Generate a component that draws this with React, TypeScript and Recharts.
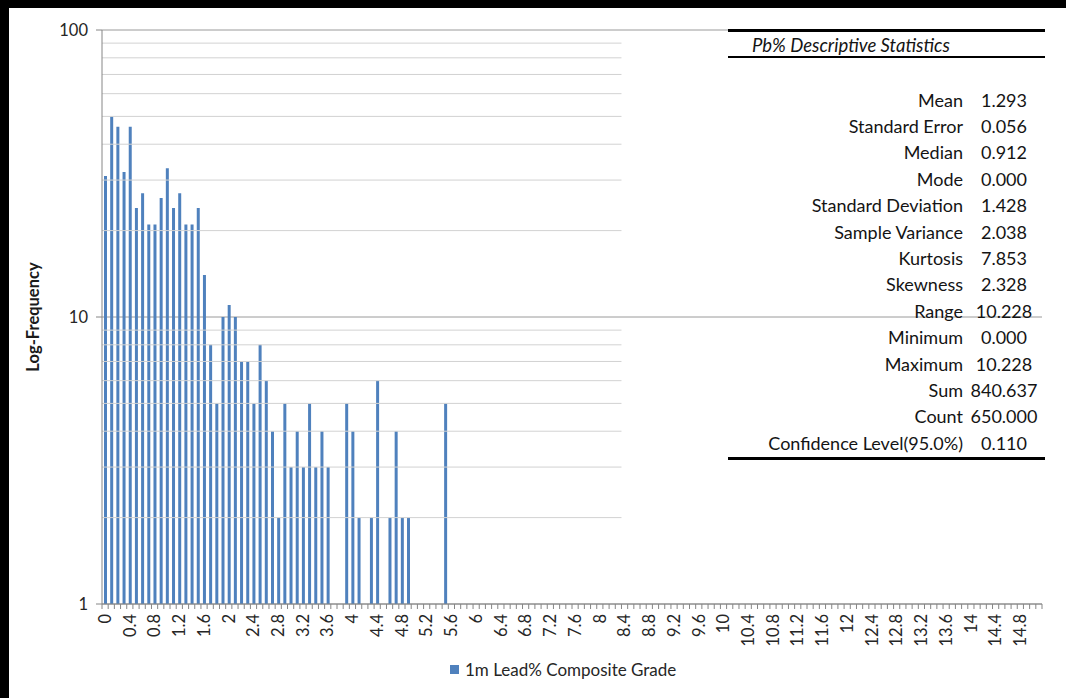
import React from 'react';
import { BarChart, Bar, XAxis, YAxis, CartesianGrid, ReferenceLine, Legend } from 'recharts';

// grade bins, 0.1% wide, starting at 0.0
const BIN_STARTS: string[] = Array.from({ length: 152 }, (_, i) => String(i / 10));

// composites per bin; bins after 5.5 carry nothing visible on the log axis
const PB_FREQ: (number | null)[] = [
  31, 50, 46, 32, 46, 24, 27, 21, 21, 26, 33, 24, 27, 21, 21, 24, 14,
  8, 5, 10, 11, 10, 7, 7, 5, 8, 6, 4, 2, 5, 3, 4, 3, 5, 3, 4, 3,
  null, null, 5, 4, 2, null, 2, 6, null, 2, 4, 2, 2,
  null, null, null, null, null, 5,
];

const Y_TICKS = [1, 10, 100];
const MINOR_GRID = [2, 3, 4, 5, 6, 7, 8, 9, 20, 30, 40, 50, 60, 70, 80, 90];
const MINOR_GRID_END = '8.4';

const SERIES_NAME = '1m Lead% Composite Grade';
const TABLE_TITLE = 'Pb% Descriptive Statistics';

const STAT_LABELS = [
  'Mean', 'Standard Error', 'Median', 'Mode', 'Standard Deviation', 'Sample Variance',
  'Kurtosis', 'Skewness', 'Range', 'Minimum', 'Maximum', 'Sum', 'Count',
  'Confidence Level(95.0%)',
];
const STAT_VALUES = [
  '1.293', '0.056', '0.912', '0.000', '1.428', '2.038', '7.853', '2.328',
  '10.228', '0.000', '10.228', '840.637', '650.000', '0.110',
];

const data = BIN_STARTS.map((bin, i) => ({ bin, freq: PB_FREQ[i] ?? null }));

const W = 1066;
const H = 698;
const MARGIN = { top: 30, right: 24, left: 20, bottom: 44 };
const Y_AXIS_W = 82;
const X_AXIS_H = 50;
const AXIS_Y = H - MARGIN.bottom - X_AXIS_H;
const STEP = (W - MARGIN.left - Y_AXIS_W - MARGIN.right) / BIN_STARTS.length;

const FONT = 'Lato, "Open Sans", sans-serif';
const AXIS_GREY = '#868686';
const BAR_BLUE = '#4F81BD';

// tick marks sit between bins, labels on every fourth bin
const BinTick = (props: any) => {
  const { x, payload, index } = props;
  const left = x - STEP / 2;
  return (
    <g>
      <line x1={left} x2={left} y1={AXIS_Y} y2={AXIS_Y + 5} stroke={AXIS_GREY} />
      {index === BIN_STARTS.length - 1 && (
        <line x1={x + STEP / 2} x2={x + STEP / 2} y1={AXIS_Y} y2={AXIS_Y + 5} stroke={AXIS_GREY} />
      )}
      {index % 4 === 0 && (
        <text
          x={x}
          y={AXIS_Y + 10}
          dy="0.35em"
          transform={`rotate(-90, ${x}, ${AXIS_Y + 10})`}
          textAnchor="end"
          fontSize={16.5}
          fontFamily={FONT}
          fill="#262626"
        >
          {payload.value}
        </text>
      )}
    </g>
  );
};

const YTitle = (props: any) => {
  const { viewBox } = props;
  const cx = viewBox.x + 13;
  const cy = viewBox.y + viewBox.height / 2;
  return (
    <text
      x={cx}
      y={cy}
      dy="0.35em"
      transform={`rotate(-90, ${cx}, ${cy})`}
      textAnchor="middle"
      fontSize={16.5}
      fontWeight="bold"
      fontFamily={FONT}
      fill="#1a1a1a"
    >
      Log-Frequency
    </text>
  );
};

const LegendBox = () => (
  <div style={{ display: 'flex', alignItems: 'center', fontFamily: FONT, fontSize: 17, color: '#262626' }}>
    <span style={{ width: 9, height: 9, background: BAR_BLUE, marginRight: 6, display: 'inline-block' }} />
    {SERIES_NAME}
  </div>
);

function StatsTable() {
  const rowTop = 99.5;
  const rowStep = 26.4;
  const rule = (top: number, h: number) => (
    <div style={{ position: 'absolute', left: 728, width: 317, top, height: h, background: '#000' }} />
  );
  return (
    <div style={{ position: 'absolute', left: 0, top: 0, width: W, height: H, pointerEvents: 'none', fontFamily: FONT, color: '#141414' }}>
      {rule(29, 3)}
      {rule(56, 2)}
      {rule(457, 3)}
      <div style={{ position: 'absolute', left: 752, top: 33, fontSize: 18.5, fontStyle: 'italic', lineHeight: '24px', whiteSpace: 'nowrap' }}>
        {TABLE_TITLE}
      </div>
      {STAT_LABELS.map((label, i) => {
        const top = rowTop + i * rowStep - 12;
        return (
          <React.Fragment key={label}>
            <div style={{ position: 'absolute', right: W - 963, top, fontSize: 18, lineHeight: '24px', whiteSpace: 'nowrap' }}>
              {label}
            </div>
            <div style={{ position: 'absolute', left: 959, width: 90, top, fontSize: 18, lineHeight: '24px', textAlign: 'center' }}>
              {STAT_VALUES[i]}
            </div>
          </React.Fragment>
        );
      })}
    </div>
  );
}

export default function App() {
  return (
    <div style={{ position: 'absolute', left: 0, top: 0, width: W, height: H, background: '#fff', overflow: 'hidden' }}>
      <BarChart width={W} height={H} data={data} margin={MARGIN} barCategoryGap={0}>
        <CartesianGrid vertical={false} stroke="#9a9a9a" />
        {MINOR_GRID.map((v) => (
          <ReferenceLine
            key={v}
            position="start"
            segment={[{ x: BIN_STARTS[0], y: v }, { x: MINOR_GRID_END, y: v }]}
            stroke="#d2d2d2"
          />
        ))}
        <XAxis
          dataKey="bin"
          height={X_AXIS_H}
          interval={0}
          tickLine={false}
          tickSize={5}
          tickMargin={5}
          stroke={AXIS_GREY}
          tick={<BinTick />}
        />
        <YAxis
          scale="log"
          domain={[1, 100]}
          ticks={Y_TICKS}
          allowDataOverflow
          width={Y_AXIS_W}
          stroke={AXIS_GREY}
          tickSize={6}
          tickMargin={8}
          tick={{ fontSize: 16.5, fontFamily: FONT, fill: '#262626' }}
          label={<YTitle />}
        />
        <Legend verticalAlign="middle" wrapperStyle={{ top: 659, left: 450, width: 300 }} content={<LegendBox />} />
        <Bar dataKey="freq" name={SERIES_NAME} fill={BAR_BLUE} barSize={3} isAnimationActive={false} />
      </BarChart>
      <StatsTable />
      <div style={{ position: 'absolute', left: 0, top: 0, width: W, height: 8, background: '#000' }} />
      <div style={{ position: 'absolute', left: 0, top: 0, width: 9, height: H, background: '#000' }} />
    </div>
  );
}
